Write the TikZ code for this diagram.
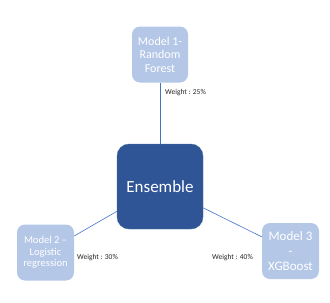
\documentclass[tikz,border=0pt]{standalone}
\usepackage{fontspec}
\setmainfont{Carlito}
\definecolor{ensBlue}{HTML}{2F5597}
\definecolor{ensEdge}{HTML}{41719C}
\definecolor{modelBg}{HTML}{B4C7E7}
\definecolor{linkBlue}{HTML}{4472C4}
\definecolor{lblGray}{HTML}{262626}

\begin{document}
\begin{tikzpicture}[x=1pt, y=-1pt,
    ensbox/.style={draw=ensEdge, fill=ensBlue, text=white, rounded corners=12pt,
      minimum width=86pt, minimum height=85pt, inner sep=0pt,
      font=\fontsize{17}{20}\selectfont},
    modelbox/.style={fill=modelBg, text=white, rounded corners=8pt,
      minimum width=56pt, minimum height=56pt, inner sep=0pt, align=center},
    link/.style={draw=linkBlue, line width=0.6pt},
    weightlbl/.style={anchor=west, text=lblGray, inner sep=0pt,
      font=\fontsize{7.5}{9}\selectfont}]
  \useasboundingbox (0,0) rectangle (330,303);

  % centre node and the three models
  \node[ensbox] (ens) at (160,186.5) {Ensemble};
  \node[modelbox, font=\fontsize{12}{13.5}\selectfont] (m1) at (160,54.5)
    {Model 1-\\Random\\Forest};
  \node[modelbox, minimum width=57pt, font=\fontsize{10.5}{11.5}\selectfont] (m2) at (45.5,252.5)
    {Model 2 --\\Logistic\\regression};
  \node[modelbox, minimum width=57pt, font=\fontsize{13}{15}\selectfont] (m3) at (290.5,251)
    {Model 3\\-\\XGBoost};

  % connectors
  \draw[link] (ens) -- (m1);
  \draw[link] (ens) -- (m2);
  \draw[link] (ens) -- (m3);

  % weights
  \node[weightlbl] (w1) at (165,93) {Weight : 25\%};
  \node[weightlbl] (w2) at (77,258) {Weight : 30\%};
  \node[weightlbl] (w3) at (212,258) {Weight : 40\%};
\end{tikzpicture}
\end{document}
